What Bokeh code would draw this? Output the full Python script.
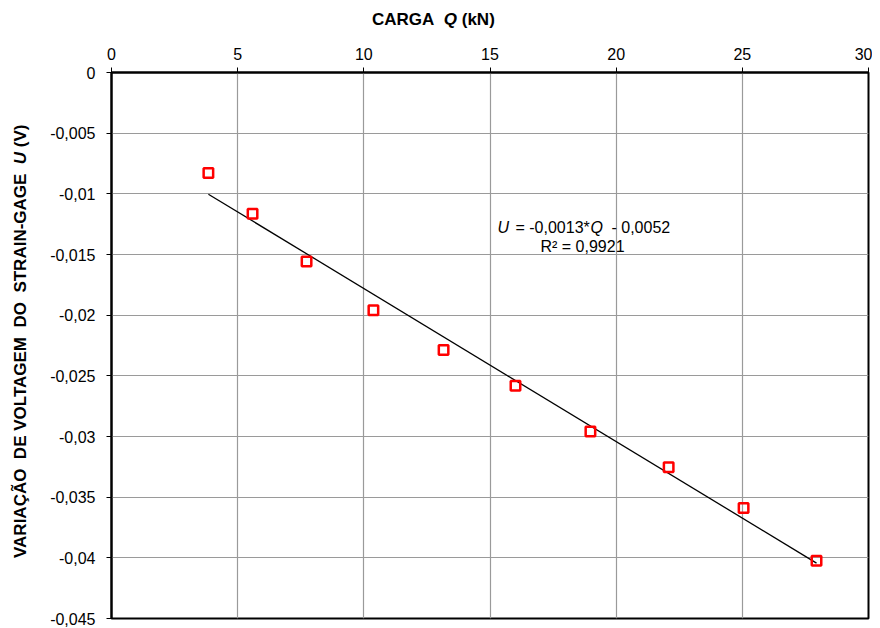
import numpy as np
from bokeh.plotting import figure
from bokeh.models import Range1d, FixedTicker, Label, Div
from bokeh.layouts import column, row
from bokeh.embed import file_html
from bokeh.resources import INLINE

# ---- data ----
carga_q = [3.84, 5.59, 7.73, 10.38, 13.16, 16.01, 18.98, 22.08, 25.05, 27.94]
voltagem_u = [-0.00828, -0.01164, -0.01557, -0.01959, -0.02287,
              -0.02582, -0.02959, -0.03254, -0.03590, -0.04025]

x_ticks = [0, 5, 10, 15, 20, 25, 30]
x_tick_labels = ["0", "5", "10", "15", "20", "25", "30"]
y_ticks = [0, -0.005, -0.01, -0.015, -0.02, -0.025, -0.03, -0.035, -0.04, -0.045]
y_tick_labels = ["0", "-0,005", "-0,01", "-0,015", "-0,02", "-0,025",
                 "-0,03", "-0,035", "-0,04", "-0,045"]

x_title_html = "CARGA&nbsp;&nbsp;<i>Q</i> (kN)"
y_title_html = ("VARIA\u00c7\u00c3O&nbsp;&nbsp;DE VOLTAGEM&nbsp;&nbsp;DO&nbsp;&nbsp;"
                "STRAIN-GAGE&nbsp;&nbsp;<i>U</i> (V)")

FONT = "Liberation Sans"

TITLE_H = 40
YLAB_W = 40

p = figure(width=832, height=588, output_backend="svg", toolbar_location=None,
           x_range=Range1d(0, 30), y_range=Range1d(-0.045, 0),
           x_axis_location="above",
           min_border_left=71, min_border_right=4,
           min_border_top=32, min_border_bottom=10)
p.background_fill_color = "white"
p.border_fill_color = "white"
p.outline_line_color = "black"
p.outline_line_width = 2

# axes
p.xaxis.ticker = FixedTicker(ticks=x_ticks)
p.yaxis.ticker = FixedTicker(ticks=y_ticks)
p.xaxis.major_label_overrides = {t: l for t, l in zip(x_ticks, x_tick_labels)}
p.yaxis.major_label_overrides = {t: l for t, l in zip(y_ticks, y_tick_labels)}
for ax in (p.xaxis, p.yaxis):
    ax.axis_line_color = "black"
    ax.axis_line_width = 2
    ax.major_tick_line_color = "black"
    ax.major_tick_line_width = 1
    ax.major_tick_out = 5
    ax.major_tick_in = 0
    ax.minor_tick_line_color = None
    ax.major_label_text_font = FONT
    ax.major_label_text_font_size = "16px"
    ax.major_label_text_color = "black"
p.xaxis.major_label_standoff = 8
p.yaxis.major_label_standoff = 11

p.xgrid.ticker = FixedTicker(ticks=x_ticks)
p.ygrid.ticker = FixedTicker(ticks=y_ticks)
p.grid.grid_line_color = "#9a9a9a"
p.grid.grid_line_width = 1.2

# trend line (least squares fit of the data)
slope, intercept = np.polyfit(carga_q, voltagem_u, 1)
xs = [min(carga_q), max(carga_q)]
p.line(xs, [slope * x + intercept for x in xs], line_color="black", line_width=1.3)

# data points
p.scatter(carga_q, voltagem_u, marker="square", size=9.5, fill_color=None,
          line_color="#ff0000", line_width=2.5)


def add_text(txt, xo, yo, style="normal", size="16px"):
    p.add_layout(Label(x=0, y=0, x_units="data", y_units="data",
                       x_offset=xo, y_offset=yo, text=txt,
                       text_font=FONT, text_font_size=size,
                       text_font_style=style, text_color="black",
                       text_align="left", text_baseline="alphabetic"))


# trend equation (inside the plot area)
add_text("U", 386, -155, "italic")
add_text("= -0,0013*", 404, -155)
add_text("Q", 479, -155, "italic")
add_text("- 0,0052", 500, -155)
add_text("R\u00b2 = 0,9921", 429, -174)

# axis titles as HTML (mixed bold / bold italic)
font_css = "font-family:'Liberation Sans';font-weight:bold;font-size:17px;line-height:17px;white-space:nowrap;color:black;"

title_div = Div(
    text=(f'<div style="position:relative;width:872px;height:{TITLE_H}px;">'
          f'<div style="position:absolute;left:372px;top:11px;{font_css}">'
          f'{x_title_html}</div></div>'),
    width=872, height=TITLE_H, margin=0)

ylab_div = Div(
    text=(f'<div style="position:relative;width:{YLAB_W}px;height:588px;">'
          f'<div style="position:absolute;left:12px;top:{558 - TITLE_H}px;'
          f'transform:rotate(-90deg);transform-origin:0 0;{font_css}">'
          f'{y_title_html}</div></div>'),
    width=YLAB_W, height=588, margin=0)

layout = column(title_div, row(ylab_div, p, spacing=0), spacing=0)

open("out.html", "w").write(file_html(layout, INLINE))
